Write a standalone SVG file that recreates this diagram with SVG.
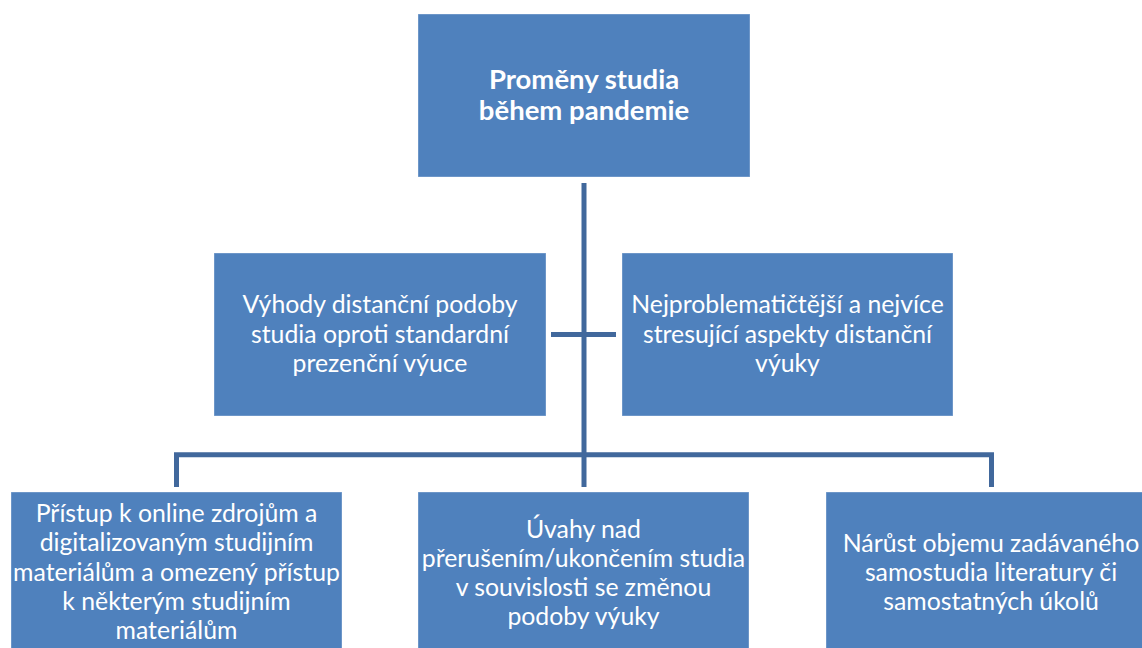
<svg xmlns="http://www.w3.org/2000/svg" width="1142" height="648" viewBox="0 0 1142 648">
<style>
.box{fill:#4F81BD;stroke:#ffffff;stroke-opacity:0.35;stroke-width:1}
.t{font-family:Lato,"Open Sans","Liberation Sans",sans-serif;font-size:24.8px;fill:#ffffff;text-anchor:middle}
.b{font-weight:bold;font-size:27.5px}
.c{stroke:#41689C;stroke-width:5;fill:none}
</style>
<rect width="1142" height="648" fill="#ffffff"/>
<g id="connectors">
<line class="c" x1="584" y1="183" x2="584" y2="487"/>
<line class="c" x1="551" y1="334.5" x2="616" y2="334.5"/>
<polyline class="c" stroke-width="4" points="176.5,487 176.5,454.7 991.5,454.7 991.5,487"/>
</g>
<g id="n-root">
<rect class="box" x="418" y="14" width="332" height="163"/>
<text class="t b" x="584" y="89">Proměny studia</text>
<text class="t b" x="584" y="120">během pandemie</text>
</g>
<g id="n-vyhody">
<rect class="box" x="214" y="253" width="332" height="163"/>
<text class="t" x="380" y="313">Výhody distanční podoby</text>
<text class="t" x="380" y="342.5">studia oproti standardní</text>
<text class="t" x="380" y="372">prezenční výuce</text>
</g>
<g id="n-problemy">
<rect class="box" x="622" y="253" width="331" height="163"/>
<text class="t" x="787.5" y="313">Nejproblematičtější a nejvíce</text>
<text class="t" x="787.5" y="342.5">stresující aspekty distanční</text>
<text class="t" x="787.5" y="372">výuky</text>
</g>
<g id="n-pristup">
<rect class="box" x="11" y="492" width="331" height="163"/>
<text class="t" x="176.5" y="522">Přístup k online zdrojům a</text>
<text class="t" x="176.5" y="551.3">digitalizovaným studijním</text>
<text class="t" x="176.5" y="580.6">materiálům a omezený přístup</text>
<text class="t" x="176.5" y="609.9">k některým studijním</text>
<text class="t" x="176.5" y="639.2">materiálům</text>
</g>
<g id="n-uvahy">
<rect class="box" x="418" y="492" width="331" height="163"/>
<text class="t" x="583.5" y="537.5">Úvahy nad</text>
<text class="t" x="583.5" y="566.8">přerušením/ukončením studia</text>
<text class="t" x="583.5" y="596.1">v souvislosti se změnou</text>
<text class="t" x="583.5" y="625.4">podoby výuky</text>
</g>
<g id="n-narust">
<rect class="box" x="826" y="492" width="330" height="163"/>
<text class="t" x="991" y="551.5">Nárůst objemu zadávaného</text>
<text class="t" x="991" y="580.8">samostudia literatury či</text>
<text class="t" x="991" y="610.1">samostatných úkolů</text>
</g>
</svg>
